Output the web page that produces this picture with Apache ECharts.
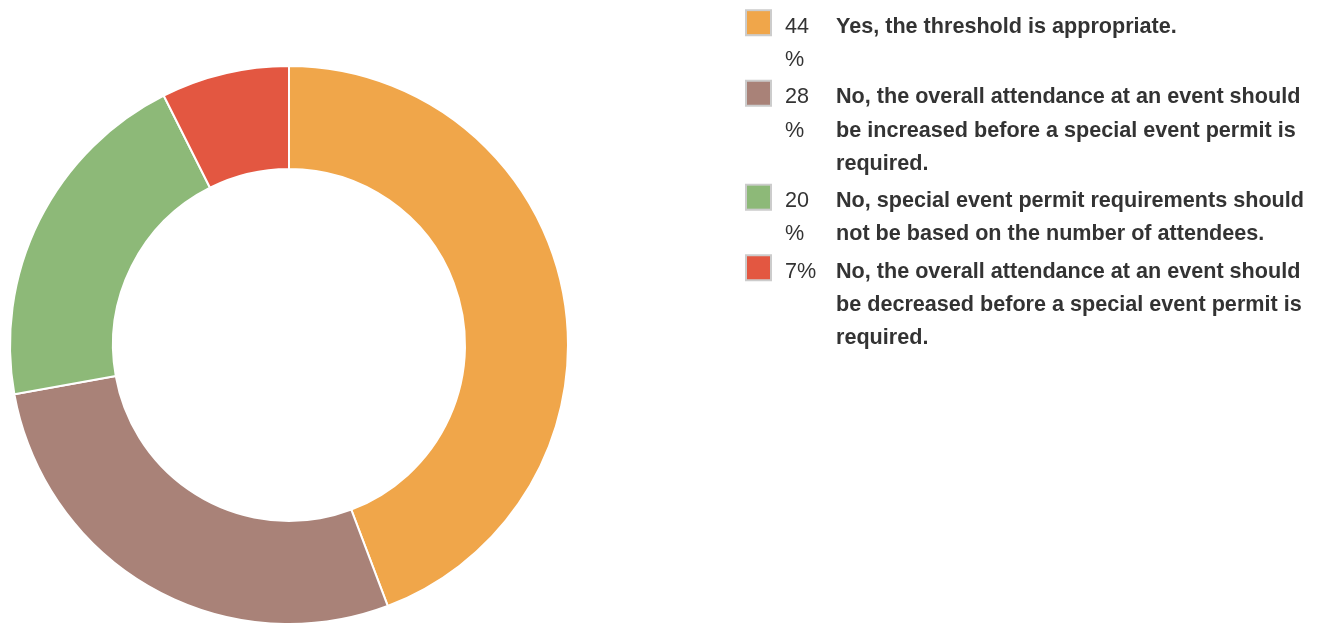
<!DOCTYPE html>
<html>
<head>
<meta charset="utf-8">
<script src="https://cdn.jsdelivr.net/npm/echarts@6/dist/echarts.min.js"></script>
<style>
html,body{margin:0;padding:0;background:#fff;}
#chart{width:1324px;height:627px;}
</style>
</head>
<body>
<div id="chart"></div>
<script>
// Data
var categories = [
  "Yes, the threshold is appropriate.",
  "No, the overall attendance at an event should\nbe increased before a special event permit is\nrequired.",
  "No, special event permit requirements should\nnot be based on the number of attendees.",
  "No, the overall attendance at an event should\nbe decreased before a special event permit is\nrequired."
];
var values = [44.2, 27.9, 20.4, 7.4];
var colors = ["#F0A64A", "#A98278", "#8DB978", "#E35741"];

var total = values.reduce(function (a, b) { return a + b; }, 0);

var FS = 21.6;
var LH = 33.3;
var rich = {
  p: { fontFamily: "Liberation Sans", fontSize: FS, color: "#333", width: 51, lineHeight: LH, padding: [8, 0, 0, 0] },
  t: { fontFamily: "Liberation Sans", fontSize: FS, fontWeight: "bold", color: "#333", lineHeight: LH, padding: [8, 0, 0, 0] },
  g: { width: 15, lineHeight: LH },
  sp: { width: 38, lineHeight: LH }
};
colors.forEach(function (c, i) {
  rich["b" + i] = {
    width: 23, height: 23, backgroundColor: c,
    borderColor: "#cccccc", borderWidth: 2, lineHeight: LH
  };
});

var chart = echarts.init(document.getElementById("chart"));
chart.setOption({
  animation: false,
  color: colors,
  legend: {
    orient: "vertical",
    left: 742,
    top: 6,
    padding: 0,
    itemGap: 4,
    itemWidth: 0,
    itemHeight: 1,
    icon: "none",
    selectedMode: false,
    textStyle: { rich: rich, lineHeight: LH },
    data: categories,
    formatter: function (name) {
      var idx = categories.indexOf(name);
      var pct = String(Math.round(values[idx] / total * 100));
      var pctParts = pct.length >= 2 ? [pct, "%"] : [pct + "%"];
      var lines = name.split("\n");
      var n = Math.max(lines.length, pctParts.length);
      var out = [];
      for (var i = 0; i < n; i++) {
        var head = i === 0 ? "{b" + idx + "|}{g|}" : "{sp|}";
        var pp = pctParts[i] || "";
        var tt = lines[i] || "";
        out.push(head + "{p|" + (pp || " ") + "}{t|" + (tt || " ") + "}");
      }
      return out.join("\n");
    }
  },
  series: [{
    type: "pie",
    center: [289, 345],
    radius: [176, 279],
    startAngle: 90,
    clockwise: true,
    label: { show: false },
    labelLine: { show: false },
    emphasis: { scale: false },
    itemStyle: { borderColor: "#ffffff", borderWidth: 2 },
    data: categories.map(function (c, i) { return { name: c, value: values[i] }; })
  }]
});
</script>
</body>
</html>
